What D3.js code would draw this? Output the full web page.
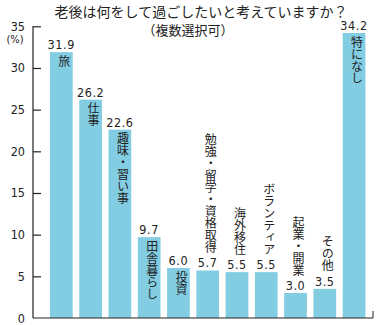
<!DOCTYPE html>
<html>
<head>
<meta charset="utf-8">
<script src="https://cdn.jsdelivr.net/npm/d3@7"></script>
<style>
  html, body { margin: 0; padding: 0; background: #fff; }
  svg { display: block; }
  .jp { font-family: "Noto Sans CJK JP", sans-serif; fill: #222; }
  .num { font-family: "Liberation Sans Narrow", "DejaVu Sans Condensed", sans-serif; fill: #222; }
</style>
</head>
<body>
<svg id="chart" width="380" height="325"></svg>
<script>
// Survey: what people want to do in old age (multiple answers, %)
const categories = ["旅", "仕事", "趣味・習い事", "田舎暮らし", "投資", "勉強・留学・資格取得",
                    "海外移住", "ボランティア", "起業・開業", "その他", "特になし"];
const values = [31.9, 26.2, 22.6, 9.7, 6.0, 5.7, 5.5, 5.5, 3.0, 3.5, 34.2];
const yTicks = [0, 5, 10, 15, 20, 25, 30, 35];
const titleLines = ["老後は何をして過ごしたいと考えていますか？", "（複数選択可）"];
const unitLabel = "(%)";

const svg = d3.select("#chart");
const barColor = "#82cde2";
const charSize = 12;

const x0 = 33, x1 = 373, yBase = 318;

const y = d3.scaleLinear().domain([0, 35]).range([yBase, 26.3]);
const x = d3.scaleBand()
  .domain(categories)
  .range([46.7, 368.7])
  .paddingInner(0.224)
  .paddingOuter(0.112);

// Title
svg.append("text").attr("class", "jp")
  .attr("x", 201).attr("y", 17)
  .attr("text-anchor", "middle").attr("font-size", 14)
  .text(titleLines[0]);
svg.append("text").attr("class", "jp")
  .attr("x", 188).attr("y", 35)
  .attr("text-anchor", "middle").attr("font-size", 13)
  .text(titleLines[1]);

// Y axis: ticks point into the plot
const yAxis = d3.axisLeft(y).tickValues(yTicks).tickSize(-8).tickPadding(8).tickFormat(d3.format("d"));
const gy = svg.append("g").attr("transform", `translate(${x0},0)`).call(yAxis);
gy.select(".domain").remove();
gy.selectAll(".tick line").attr("stroke", "#222").attr("stroke-width", 1.2);
gy.selectAll(".tick text").attr("class", "num").attr("font-size", 12.5).attr("fill", "#222");
gy.selectAll(".tick").filter(d => d === 0).select("line").remove();

svg.append("line")
  .attr("x1", x0).attr("x2", x0)
  .attr("y1", y(35)).attr("y2", yBase)
  .attr("stroke", "#222").attr("stroke-width", 1.2);

svg.append("text").attr("class", "num")
  .attr("x", 15).attr("y", 43).attr("text-anchor", "middle").attr("font-size", 11)
  .text(unitLabel);

// Bars
svg.append("g").selectAll("rect")
  .data(values)
  .join("rect")
  .attr("x", (d, i) => x(categories[i]))
  .attr("y", d => y(d))
  .attr("width", x.bandwidth())
  .attr("height", d => yBase - y(d))
  .attr("fill", barColor);

// Baseline with a small end mark
svg.append("line")
  .attr("x1", x0).attr("x2", x1)
  .attr("y1", yBase).attr("y2", yBase)
  .attr("stroke", "#222").attr("stroke-width", 1.2);
svg.append("line")
  .attr("x1", x1).attr("x2", x1)
  .attr("y1", yBase - 7).attr("y2", yBase)
  .attr("stroke", "#222").attr("stroke-width", 1);

// Value labels
svg.append("g").selectAll("text")
  .data(values)
  .join("text")
  .attr("class", "num")
  .attr("x", (d, i) => x(categories[i]) + x.bandwidth() / 2)
  .attr("y", d => y(d) - 3)
  .attr("text-anchor", "middle")
  .attr("font-size", 12.5)
  .attr("letter-spacing", 0.6)
  .text(d => d.toFixed(1));

// Category labels, written vertically: inside the bar when it fits, otherwise above the value.
// The vertical column renders slightly left of x, so nudge it right a quarter character.
svg.append("g").selectAll("text")
  .data(categories)
  .join("text")
  .attr("class", "jp")
  .attr("font-size", charSize)
  .style("writing-mode", "vertical-rl")
  .each(function (c, i) {
    const v = values[i];
    const len = Array.from(c).length * charSize;
    const inside = len < (yBase - y(v)) - 6;
    d3.select(this)
      .attr("x", x(c) + x.bandwidth() / 2 + charSize / 4)
      .attr("y", inside ? y(v) + 3 : y(v) - 17)
      .attr("text-anchor", inside ? "start" : "end");
  })
  .text(c => c);
</script>
</body>
</html>
